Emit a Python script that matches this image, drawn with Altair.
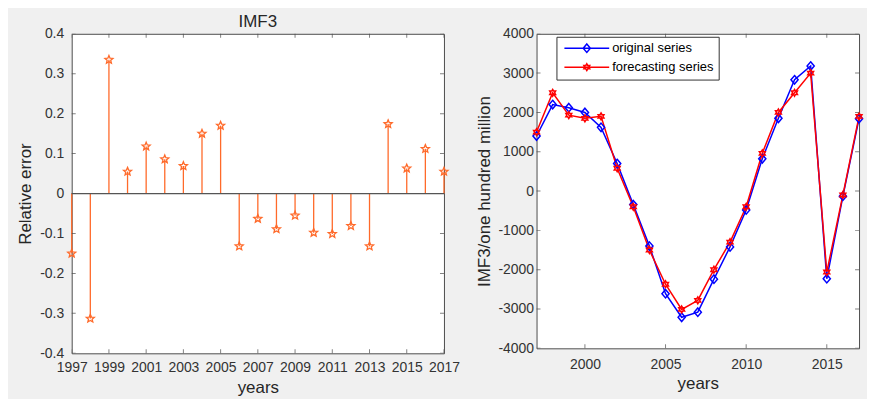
import math
import altair as alt
import pandas as pd

# ---------------- data ----------------
years = list(range(1997, 2018))
rel_error = [-0.150, -0.313, 0.335, 0.055, 0.118, 0.086, 0.069, 0.150, 0.170,
             -0.132, -0.063, -0.089, -0.055, -0.098, -0.101, -0.081, -0.132,
             0.174, 0.063, 0.112, 0.055]
original = [1400, 2200, 2120, 2000, 1620, 700, -345, -1400, -2610, -3210, -3080,
            -2240, -1420, -480, 820, 1850, 2830, 3180, -2230, -130, 1840]
forecast = [1500, 2500, 1930, 1850, 1900, 580, -400, -1500, -2370, -3010, -2780,
            -2000, -1300, -400, 960, 2000, 2500, 3000, -2060, -100, 1900]
series_names = ["original series", "forecasting series"]
series_colors = ["#0000ff", "#ff0000"]
panel_titles = ["IMF3"]

left_x_ticks = list(range(1997, 2018, 2))
left_y_ticks = [-0.4, -0.3, -0.2, -0.1, 0.0, 0.1, 0.2, 0.3, 0.4]
right_x_ticks = [2000, 2005, 2010, 2015]
right_y_ticks = [-4000, -3000, -2000, -1000, 0, 1000, 2000, 3000, 4000]
x_domain = [1997, 2017]
left_y_domain = [-0.4, 0.4]
right_y_domain = [-4000, 4000]

# ---------------- styles ----------------
FONT = "Liberation Sans"
ORANGE = "#ff6a2a"
BOX = "#4d4d4d"
LABEL = "#333333"
TITLE = "#262626"
LEFT_W, LEFT_H = 374, 321
RIGHT_W, RIGHT_H = 324, 316


def star(points, r_out, r_in):
    pts = []
    for k in range(2 * points):
        r = r_out if k % 2 == 0 else r_in
        a = -math.pi / 2 + k * math.pi / points
        pts.append((r * math.cos(a), r * math.sin(a)))
    return "M" + "L".join(f"{x:.3f},{y:.3f}" for x, y in pts) + "Z"


STAR5 = star(5, 1.0, 0.45)
DIAMOND = "M0,-0.85L0.72,0L0,0.85L-0.72,0Z"
HEXAGRAM = star(6, 0.68, 0.68 * 0.577)
LEG_LINE = "M-4.5,0L4.5,0"


def frame_ticks(x_ticks, y_ticks, xdom, ydom, xs, ys, xa, ya):
    n, m = len(x_ticks), len(y_ticks)
    xt = pd.DataFrame({"tx": x_ticks * 2, "ty": [ydom[0]] * n + [ydom[1]] * n})
    yt = pd.DataFrame({"tx": [xdom[0]] * m + [xdom[1]] * m, "ty": y_ticks * 2})
    a = alt.Chart(xt).mark_tick(orient="vertical", size=8, thickness=1, clip=True, color=BOX).encode(
        x=alt.X("tx:Q", scale=xs, axis=xa), y=alt.Y("ty:Q", scale=ys, axis=ya))
    b = alt.Chart(yt).mark_tick(orient="horizontal", size=8, thickness=1, clip=True, color=BOX).encode(
        x=alt.X("tx:Q", scale=xs, axis=xa), y=alt.Y("ty:Q", scale=ys, axis=ya))
    return [a, b]


# ---------------- left panel ----------------
ldf = pd.DataFrame({"year": years, "err": rel_error})
lxs = alt.Scale(domain=x_domain, nice=False, zero=False)
lys = alt.Scale(domain=left_y_domain, nice=False, zero=False)

left_x_axis = alt.Axis(values=left_x_ticks, format="d", title="years", labelPadding=7,
                       titlePadding=5, labelFlush=False, labelOverlap=False)
left_y_axis = alt.Axis(values=left_y_ticks, title="Relative error", labelPadding=8,
                       titlePadding=5, labelFlush=False, labelOverlap=False,
                       labelExpr="abs(datum.value) < 0.000001 ? '0' : (datum.value < 0 ? '-' : '') + format(abs(datum.value), '.1f')")

stems = alt.Chart(ldf).mark_rule(color=ORANGE, strokeWidth=1.3).encode(
    x=alt.X("year:Q", scale=lxs, axis=left_x_axis),
    y=alt.Y("err:Q", scale=lys, axis=left_y_axis),
    y2=alt.datum(0),
)
baseline = alt.Chart(pd.DataFrame({"zero": [0.0]})).mark_rule(color="#555555", strokeWidth=1.2).encode(
    y=alt.Y("zero:Q", scale=lys, axis=left_y_axis))
stars = alt.Chart(ldf).mark_point(shape=STAR5, size=72, filled=False, color=ORANGE, strokeWidth=1.3,
                                  opacity=1).encode(
    x=alt.X("year:Q", scale=lxs, axis=left_x_axis),
    y=alt.Y("err:Q", scale=lys, axis=left_y_axis),
)
panel_title = alt.Chart(pd.DataFrame({"t": panel_titles})).mark_text(
    font=FONT, fontSize=17, color=TITLE, baseline="alphabetic", align="center").encode(
    text="t:N", x=alt.value(LEFT_W / 2), y=alt.value(-7))

left = alt.layer(stems, baseline, stars, panel_title,
                 *frame_ticks(left_x_ticks, left_y_ticks, x_domain, left_y_domain, lxs, lys,
                              left_x_axis, left_y_axis)).properties(width=LEFT_W, height=LEFT_H)

# ---------------- right panel ----------------
rdf = pd.DataFrame({
    "year": years * 2,
    "value": original + forecast,
    "series": [series_names[0]] * len(years) + [series_names[1]] * len(years),
})
rxs = alt.Scale(domain=x_domain, nice=False, zero=False)
rys = alt.Scale(domain=right_y_domain, nice=False, zero=False)
cscale = alt.Scale(domain=series_names, range=series_colors)

right_x_axis = alt.Axis(values=right_x_ticks, format="d", title="years", labelPadding=9,
                        titlePadding=4, labelFlush=False, labelOverlap=False)
right_y_axis = alt.Axis(values=right_y_ticks, title="IMF3/one hundred million", labelPadding=3,
                        titlePadding=4, labelFlush=False, labelOverlap=False,
                        labelExpr="(datum.value < 0 ? '-' : '') + format(abs(datum.value), 'd')")

lines = alt.Chart(rdf).mark_line(strokeWidth=1.5).encode(
    x=alt.X("year:Q", scale=rxs, axis=right_x_axis),
    y=alt.Y("value:Q", scale=rys, axis=right_y_axis),
    color=alt.Color("series:N", scale=cscale, legend=None),
)
markers = alt.Chart(rdf).mark_point(filled=False, size=100, strokeWidth=1.5, opacity=1).encode(
    x=alt.X("year:Q", scale=rxs, axis=right_x_axis),
    y=alt.Y("value:Q", scale=rys, axis=right_y_axis),
    color=alt.Color("series:N", scale=cscale, legend=None),
    shape=alt.Shape("series:N", scale=alt.Scale(domain=series_names, range=[DIAMOND, HEXAGRAM]), legend=None),
)
legend_cfg = alt.Legend(title=None, orient="none", legendX=20, legendY=3, fillColor="white",
                        strokeColor="#333333", padding=5, rowPadding=5, symbolSize=100,
                        symbolStrokeWidth=1.5, symbolOpacity=1, symbolOffset=19, labelOffset=19,
                        labelFontSize=13, labelColor="#000000", labelFont=FONT, cornerRadius=0)
legend_layer = alt.Chart(rdf).transform_filter("datum.year == 2007").mark_point(
    filled=False, size=100, opacity=0, clip=True).encode(
    x=alt.X("year:Q", scale=rxs, axis=right_x_axis),
    y=alt.Y("value:Q", scale=rys, axis=right_y_axis),
    color=alt.Color("series:N", scale=cscale, legend=legend_cfg),
    shape=alt.Shape("series:N", scale=alt.Scale(domain=series_names,
                                                range=[LEG_LINE + DIAMOND, LEG_LINE + HEXAGRAM]),
                    legend=legend_cfg),
)

right = alt.layer(lines, markers, legend_layer,
                  *frame_ticks(right_x_ticks, right_y_ticks, x_domain, right_y_domain, rxs, rys,
                               right_x_axis, right_y_axis)).resolve_scale(
    color="independent", shape="independent").properties(width=RIGHT_W, height=RIGHT_H)

chart = alt.hconcat(left, right, spacing=93, bounds="flush").properties(
    padding={"left": 8, "top": 3, "right": 0, "bottom": 3},
    background="#f0f0f0",
).configure_view(fill="white", stroke=BOX, strokeWidth=1).configure_axis(
    labelFont=FONT, titleFont=FONT, labelColor=LABEL, titleColor=TITLE, labelFontSize=14,
    titleFontSize=17, titleFontWeight="normal", ticks=False, domain=False, grid=False,
)

chart.save("out.html", embed_options={"renderer": "svg", "actions": False})
